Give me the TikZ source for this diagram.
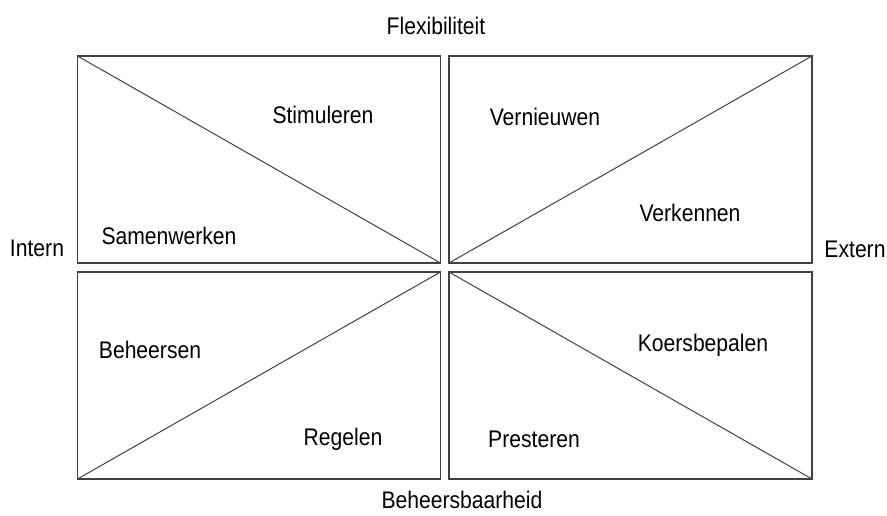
\documentclass[tikz,border=0pt]{standalone}
\usepackage{fontspec}
\setmainfont[FakeStretch=0.88]{Liberation Sans}
\usepackage{tikz}
\usetikzlibrary{positioning}
\definecolor{FrameGrey}{HTML}{404040}

\begin{document}
\begin{tikzpicture}[x=1pt, y=-1pt,
		quad/.style={draw=FrameGrey, line width=1.6pt, inner sep=0pt, outer sep=0pt,
			minimum width=363pt, minimum height=207pt},
		diag/.style={FrameGrey, line width=1pt},
		lbl/.style={inner sep=0pt, font=\fontsize{24}{28}\selectfont}]
	\useasboundingbox (0,0) rectangle (887,516);
	% vier kwadranten
	\node[quad] (lb) at (259,159.5) {};
	\node[quad] (rb) at (630.5,159.5) {};
	\node[quad] (lo) at (259,375.5) {};
	\node[quad] (ro) at (630.5,375.5) {};
	\draw[diag] (lb.north west) -- (lb.south east);
	\draw[diag] (rb.south west) -- (rb.north east);
	\draw[diag] (lo.south west) -- (lo.north east);
	\draw[diag] (ro.north west) -- (ro.south east);
	% assen
	\node[lbl] (flex) at (436,26) {Flexibiliteit};
	\node[lbl] (beh) at (462,500) {Beheersbaarheid};
	\node[lbl] (int) at (37,248) {Intern};
	\node[lbl] (ext) at (855,249) {Extern};
	% rollen
	\node[lbl] (stim) at (323,115) {Stimuleren};
	\node[lbl] (samen) at (169,236) {Samenwerken};
	\node[lbl] (vern) at (545,117) {Vernieuwen};
	\node[lbl] (verk) at (690,213) {Verkennen};
	\node[lbl] (beheer) at (150,350) {Beheersen};
	\node[lbl] (regel) at (343,439) {Regelen};
	\node[lbl] (koers) at (703,345) {Koersbepalen};
	\node[lbl] (prest) at (534,439) {Presteren};
\end{tikzpicture}
\end{document}
